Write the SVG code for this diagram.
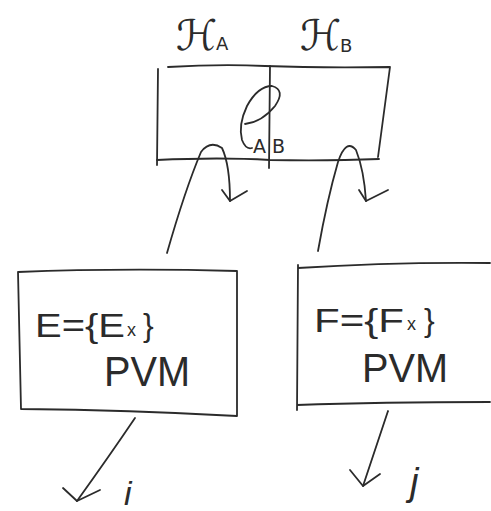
<svg xmlns="http://www.w3.org/2000/svg" width="491" height="511" viewBox="0 0 491 511">
  <style>
    .ink { fill: none; stroke: #2b2b2b; stroke-width: 1.8; stroke-linecap: round; stroke-linejoin: round; }
    .lbl { fill: #2b2b2b; font-family: "DejaVu Sans", "Liberation Sans", sans-serif; }
    .hand { fill: #2b2b2b; font-family: "Liberation Sans", "DejaVu Sans", sans-serif; }
  </style>
  <rect width="491" height="511" fill="#ffffff"/>

  <!-- bipartite system A|B with shared state -->
  <g id="system-AB">
    <path class="ink" d="M168 67 Q220 64 265 66 Q320 68 390 67 L378 157"/>
    <path class="ink" d="M158 69 L157 165"/>
    <path class="ink" d="M157 160 Q220 157 270 160 Q330 161 379 159"/>
    <path class="ink" d="M270 66 L269 168"/>
    <text class="lbl" x="176" y="50" font-size="42">ℋ</text>
    <text class="lbl" x="216" y="50" font-size="18">A</text>
    <text class="lbl" x="300" y="50" font-size="42">ℋ</text>
    <text class="lbl" x="340" y="52" font-size="18">B</text>
    <!-- rho -->
    <path class="ink" d="M245 124 Q262 122 275 106 Q286 90 272 86 Q258 86 247 106 Q238 125 242 140 Q246 150 252 148"/>
    <text class="lbl" x="253" y="153" font-size="19">A</text>
    <text class="lbl" x="272" y="153" font-size="19">B</text>
  </g>

  <!-- measurement on A -->
  <g id="measure-E">
    <path class="ink" d="M18 272 Q120 268 237 271 L237 416 Q130 410 21 409 L18 272"/>
    <text class="hand" x="35" y="337" font-size="34" textLength="90" lengthAdjust="spacingAndGlyphs">E={E</text>
    <text class="hand" x="127" y="336" font-size="18">x</text>
    <text class="hand" x="143" y="336" font-size="32">}</text>
    <text class="hand" x="104" y="386" font-size="42" textLength="86" lengthAdjust="spacingAndGlyphs">PVM</text>
  </g>

  <!-- measurement on B -->
  <g id="measure-F">
    <path class="ink" d="M298 268 Q390 262 490 263 M298 265 L297 410 M297 405 Q380 402 490 402"/>
    <text class="hand" x="314" y="332" font-size="34" textLength="90" lengthAdjust="spacingAndGlyphs">F={F</text>
    <text class="hand" x="407" y="330" font-size="18">x</text>
    <text class="hand" x="424" y="331" font-size="32">}</text>
    <text class="hand" x="362" y="382" font-size="40" textLength="86" lengthAdjust="spacingAndGlyphs">PVM</text>
  </g>

  <!-- connectors -->
  <g id="connectors">
    <!-- A subsystem into E -->
    <path class="ink" d="M167 253 Q185 190 201 152 Q210 140 222 148 Q230 165 230 201"/>
    <path class="ink" d="M222 190 L230 201 L247 191"/>
    <!-- B subsystem into F -->
    <path class="ink" d="M318 251 Q327 200 338 162 Q346 138 356 150 Q364 170 366 201"/>
    <path class="ink" d="M359 190 L366 201 L388 190"/>
    <!-- outcomes -->
    <path class="ink" d="M135 418 Q110 455 77 501"/>
    <path class="ink" d="M63 488 L77 501 L100 490"/>
    <path class="ink" d="M388 411 Q375 450 363 486"/>
    <path class="ink" d="M350 470 L363 486 L380 474"/>
  </g>

  <!-- outcome labels -->
  <text class="hand" x="124" y="505" font-size="34" font-style="italic">i</text>
  <text class="hand" x="410" y="495" font-size="38" font-style="italic">j</text>
</svg>
